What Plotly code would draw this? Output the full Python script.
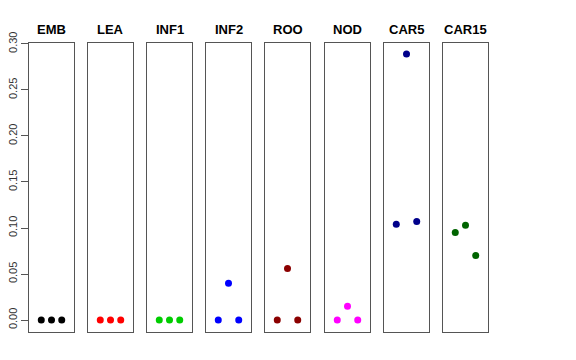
import plotly.graph_objects as go

tissues = ["EMB", "LEA", "INF1", "INF2", "ROO", "NOD", "CAR5", "CAR15"]
colors = ["#000000", "#FF0000", "#00CD00", "#0000FF", "#8B0000", "#FF00FF", "#00008B", "#006400"]
values = [
    [0.0, 0.0, 0.0],
    [0.0, 0.0, 0.0],
    [0.0, 0.0, 0.0],
    [0.0, 0.040, 0.0],
    [0.0, 0.056, 0.0],
    [0.0, 0.015, 0.0],
    [0.104, 0.289, 0.107],
    [0.095, 0.103, 0.070],
]
reps = [1, 2, 3]
yticks = [0.00, 0.05, 0.10, 0.15, 0.20, 0.25, 0.30]

W, H = 576, 360
OFF = 8  # page body margin
lefts = [29, 88, 147, 206, 265, 325, 384, 443]
pw = 45
ydom = [(H - (332 - OFF)) / H, (H - (43 - OFF)) / H]

fig = go.Figure()
for i, (t, c, v) in enumerate(zip(tissues, colors, values)):
    xa = "x" if i == 0 else f"x{i+1}"
    ya = "y" if i == 0 else f"y{i+1}"
    fig.add_trace(go.Scatter(x=reps, y=v, mode="markers", xaxis=xa, yaxis=ya,
                             marker=dict(color=c, size=7), showlegend=False))
    key = "" if i == 0 else str(i + 1)
    fig.layout["xaxis" + key] = dict(domain=[(lefts[i] - OFF) / W, (lefts[i] - OFF + pw) / W],
                                     range=[-0.2, 4.2], showticklabels=False, ticks="",
                                     showgrid=False, zeroline=False, showline=True, mirror=True,
                                     linecolor="#555555", linewidth=1, anchor=ya, automargin=False)
    ydict = dict(domain=ydom, range=[-0.013, 0.301], showgrid=False, zeroline=False,
                 showline=True, mirror=True, linecolor="#555555", linewidth=1, anchor=xa,
                 automargin=False)
    if i == 0:
        ydict.update(tickvals=yticks, ticktext=[f"{t:.2f}" for t in yticks], ticks="outside",
                     ticklen=7, tickcolor="#555555", tickangle=-90,
                     tickfont=dict(family="Liberation Sans, Arial", size=11, color="#333333"))
    else:
        ydict.update(showticklabels=False, ticks="")
    fig.layout["yaxis" + key] = ydict
    fig.add_annotation(text=f"<b>{t}</b>", x=(lefts[i] - OFF + pw / 2) / W,
                       y=(H - (29 - OFF)) / H,
                       xref="paper", yref="paper", showarrow=False, xanchor="center",
                       yanchor="middle",
                       font=dict(family="Liberation Sans, Arial", size=13, color="#000000"))

fig.update_layout(width=W, height=H, margin=dict(l=0, r=0, t=0, b=0, autoexpand=False),
                  paper_bgcolor="white", plot_bgcolor="white")
fig.write_html("out.html")
